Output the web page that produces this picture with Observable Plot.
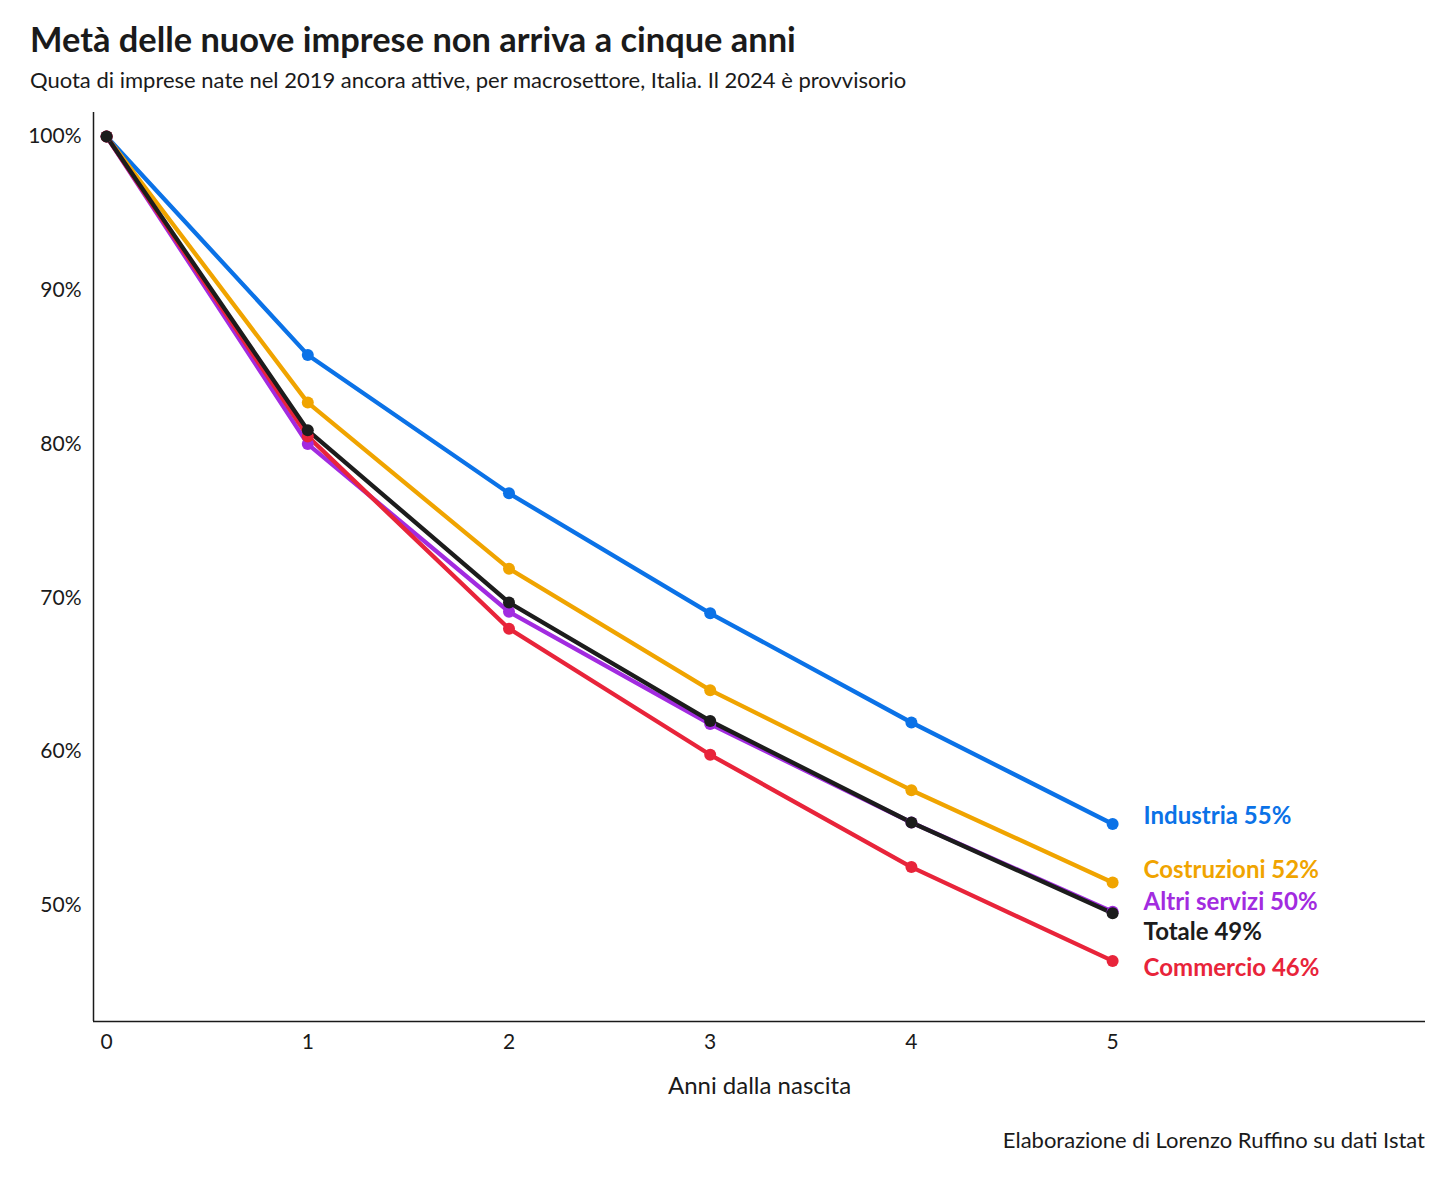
<!DOCTYPE html>
<html>
<head>
<meta charset="utf-8">
<script src="https://cdn.jsdelivr.net/npm/d3@7"></script>
<script src="https://cdn.jsdelivr.net/npm/@observablehq/plot@0.6"></script>
<style>
  html, body { margin: 0; padding: 0; background: #fff; }
  body { width: 1456px; height: 1183px; position: relative; font-family: Lato, "Noto Sans", sans-serif; color: #1a1a1a; }
  #title { position: absolute; left: 30px; top: 18px; font-size: 34.4px; font-weight: 700; line-height: 1.2; }
  #subtitle { position: absolute; left: 30px; top: 67px; font-size: 22px; line-height: 1.2; }
  #chart { position: absolute; left: 0; top: 100px; }
  #caption { position: absolute; right: 31px; top: 1127px; font-size: 22px; line-height: 1.2; }
</style>
</head>
<body>
<div id="title">Metà delle nuove imprese non arriva a cinque anni</div>
<div id="subtitle">Quota di imprese nate nel 2019 ancora attive, per macrosettore, Italia. Il 2024 è provvisorio</div>
<div id="chart"></div>
<div id="caption">Elaborazione di Lorenzo Ruffino su dati Istat</div>
<script>
const years = [0, 1, 2, 3, 4, 5];
const sectors = ["Industria", "Costruzioni", "Altri servizi", "Commercio", "Totale"];
const industria    = [100, 85.8, 76.8, 69.0, 61.9, 55.3];
const costruzioni  = [100, 82.7, 71.9, 64.0, 57.5, 51.5];
const altriServizi = [100, 80.0, 69.1, 61.8, 55.4, 49.6];
const commercio    = [100, 80.5, 68.0, 59.8, 52.5, 46.4];
const totale       = [100, 80.9, 69.7, 62.0, 55.4, 49.5];
const labelText = ["Industria 55%", "Costruzioni 52%", "Altri servizi 50%", "Commercio 46%", "Totale 49%"];
const colors = ["#0b72e7", "#f0a400", "#a22be0", "#e8243a", "#1c1c1c"];
const labelDy = [-8, -12, -9, 7, 19];
const yTicks = [50, 60, 70, 80, 90, 100];

const seriesValues = [industria, costruzioni, altriServizi, commercio, totale];
const data = [];
sectors.forEach((s, i) => years.forEach((yr, j) => data.push({sector: s, year: yr, value: seriesValues[i][j]})));
const ends = sectors.map((s, i) => ({sector: s, year: 5, value: seriesValues[i][5], label: labelText[i], dy: labelDy[i]}));

const xDomain = [-0.065, 6.555];
const yDomain = [42.46, 101.56];

const plot = Plot.plot({
  width: 1456,
  height: 1000,
  marginLeft: 93,
  marginRight: 31,
  marginTop: 12,
  marginBottom: 79,
  style: {fontFamily: "Lato, 'Noto Sans', sans-serif", fontSize: "21px", color: "#1a1a1a", background: "#fff"},
  x: {domain: xDomain, ticks: years, tickFormat: d => String(d), tickSize: 0, tickPadding: 13, label: "Anni dalla nascita", labelAnchor: "center", labelOffset: 72, labelArrow: "none"},
  y: {domain: yDomain, ticks: yTicks, tickFormat: d => d + "%", tickSize: 0, tickPadding: 12, label: null},
  color: {domain: sectors, range: colors},
  marks: [
    Plot.ruleX([xDomain[0]], {stroke: "#1a1a1a", strokeWidth: 1.5}),
    Plot.ruleY([yDomain[0]], {stroke: "#1a1a1a", strokeWidth: 1.5}),
    Plot.line(data, {x: "year", y: "value", z: "sector", stroke: "sector", strokeWidth: 4.3, strokeLinejoin: "round", strokeLinecap: "round"}),
    Plot.dot(data, {x: "year", y: "value", fill: "sector", r: 6}),
    ...ends.map(e => Plot.text([e], {x: "year", y: "value", text: "label", fill: "sector", textAnchor: "start", dx: 31, dy: e.dy, fontSize: 24, fontWeight: 700}))
  ]
});
plot.querySelectorAll('[aria-label="x-axis label"] text, [aria-label="x-axis label"]').forEach(n => n.setAttribute("font-size", "24"));
document.getElementById("chart").appendChild(plot);
</script>
</body>
</html>
